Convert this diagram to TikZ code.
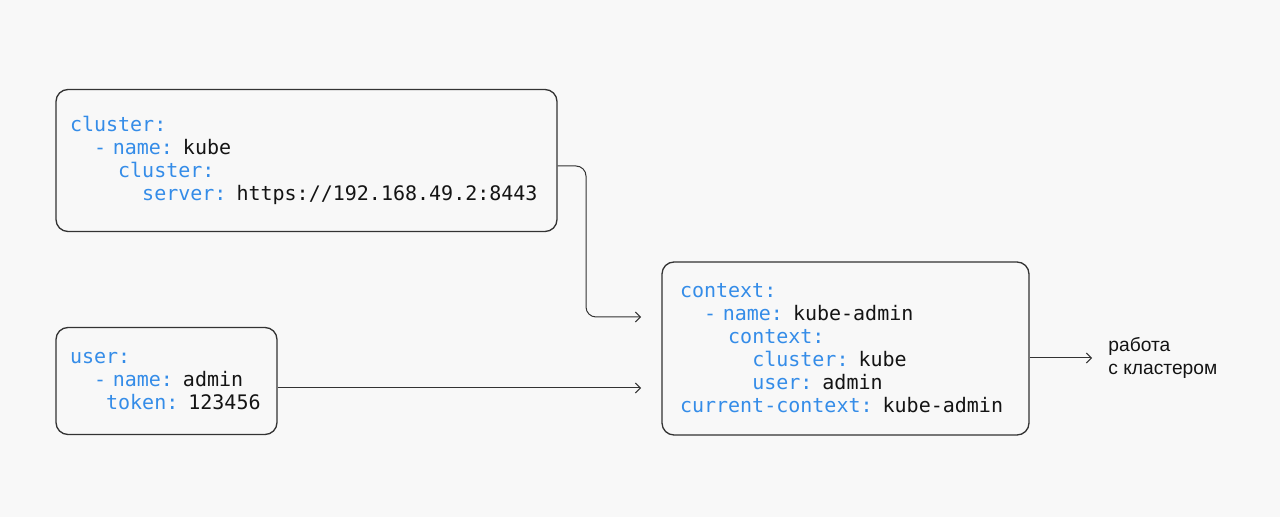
\documentclass[tikz,border=0pt]{standalone}
\usepackage{fontspec}
\setmainfont{Liberation Sans}
\setmonofont{DejaVu Sans Mono}
\usetikzlibrary{arrows.meta, calc, positioning}
\definecolor{bgGray}{RGB}{248,248,248}
\definecolor{keyBlue}{RGB}{52,140,232}
\definecolor{lineGray}{RGB}{51,51,51}
\definecolor{txtBlack}{RGB}{20,20,20}
\newcommand{\keyTxt}[1]{\textcolor{keyBlue}{#1}}
\newcommand{\ind}[1]{\hspace*{#1\fontcharwd\font`0}}

\begin{document}
\begin{tikzpicture}[x=0.5pt, y=-0.5pt,
    yamlBox/.style={draw=lineGray, line width=0.65pt, rounded corners=6pt, align=left,
        inner xsep=7pt, inner ysep=0pt, text=txtBlack,
        font=\ttfamily\fontsize{10}{11.5}\selectfont},
    link/.style={draw=lineGray, line width=0.5pt, ->, >={Straight Barb[length=2.5pt, width=5pt]},
        rounded corners=5pt}]
    \fill [bgGray] (0,0) rectangle (1280,517);
    \useasboundingbox (0,0) rectangle (1280,517);

    % yaml blocks
    \node (cluster) [yamlBox, text width=236.5pt, minimum height=71pt] at (306.5,160.5) {%
        \keyTxt{cluster:}\\
        \ind{2}\keyTxt{- name:} kube\\
        \ind{4}\keyTxt{cluster:}\\
        \ind{6}\keyTxt{server:} https://192.168.49.2:8443};
    \node (user) [yamlBox, text width=96.5pt, minimum height=53.5pt] at (166.5,381) {%
        \keyTxt{user:}\\
        \ind{2}\keyTxt{- name:} admin\\
        \ind{3}\keyTxt{token:} 123456};
    \node (context) [yamlBox, inner xsep=9pt, text width=165.5pt, minimum height=86.5pt] at (845.5,348.5) {%
        \keyTxt{context:}\\
        \ind{2}\keyTxt{- name:} kube-admin\\
        \ind{4}\keyTxt{context:}\\
        \ind{6}\keyTxt{cluster:} kube\\
        \ind{6}\keyTxt{user:} admin\\
        \keyTxt{current-context:} kube-admin};

    % arrow ends
    \coordinate (clusterIn) at (641,317);
    \coordinate (userIn) at (641,388);
    \coordinate (ctxOut) at (1092,358);

    \draw [link] ([yshift=-2.75pt]cluster.east) -| ($(clusterIn)+(-55,0)$) -- (clusterIn);
    \draw [link] ([yshift=-3.5pt]user.east) -- (userIn);
    \draw [link] ([yshift=-4.75pt]context.east) -- (ctxOut);

    \node (work) [anchor=west, align=left, inner sep=0pt, text=txtBlack,
        font=\fontsize{9.6}{11.5}\selectfont] at ([xshift=8pt]ctxOut) {работа\\с кластером};
\end{tikzpicture}
\end{document}
